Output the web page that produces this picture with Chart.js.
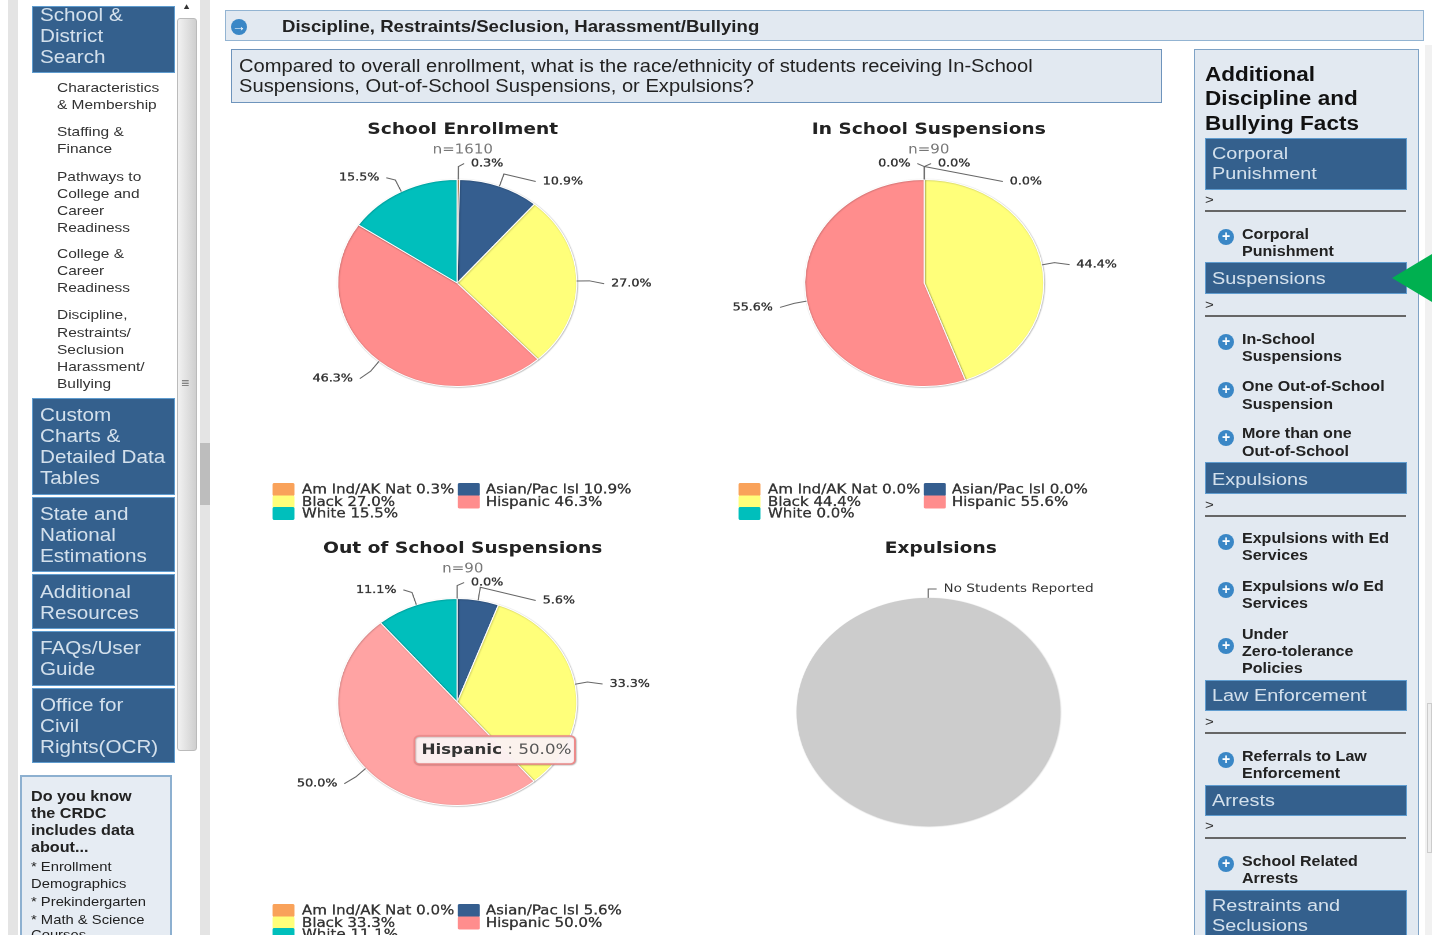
<!DOCTYPE html>
<html><head><meta charset="utf-8">
<script src="https://cdn.jsdelivr.net/npm/chart.js@4"></script>
<style>
html,body{margin:0;padding:0;background:#fff;overflow:hidden;width:1432px;height:935px}
#page{position:absolute;left:0;top:0;width:1432px;height:935px;overflow:hidden;filter:blur(.45px)}
.t{position:absolute;white-space:nowrap;transform:scaleX(1.155);transform-origin:0 0;font-family:"Liberation Sans",Arial,sans-serif}
.b{position:absolute;box-sizing:border-box}
canvas{position:absolute;transform:scaleX(1.155);transform-origin:0 0}
</style></head><body><div id="page"></div>
<script>
// ---- chart data ----
const categories=["Am Ind/AK Nat","Asian/Pac Isl","Black","Hispanic","White"];
const enrollmentValues=[0.3,10.9,27.0,46.3,15.5];
const inSchoolValues=[0.0,0.0,44.4,55.6,0.0];
const outOfSchoolValues=[0.0,5.6,33.3,50.0,11.1];
const expulsionValues=[1];
const expulsionNote="No Students Reported";
const sliceColors=["#F9A25A","#355E8F","#FFFF7A","#FF8D8D","#00BFBC"];
const chartTitles=["School Enrollment","In School Suspensions","Out of School Suspensions","Expulsions"];
const chartCounts=["n=1610","n=90","n=90",""];

// ---- page chrome ----
const page=document.getElementById('page');
function box(x,y,w,h,css){const d=document.createElement('div');d.className='b';d.style.cssText=`left:${x}px;top:${y}px;width:${w}px;height:${h}px;${css||''}`;page.appendChild(d);return d;}
function txt(x,yc,s,size,css,lh){const d=document.createElement('div');d.className='t';lh=lh||Math.round(size*1.2);d.style.cssText=`left:${x}px;top:${yc-lh/2}px;font-size:${size}px;line-height:${lh}px;${css||''}`;d.textContent=s;page.appendChild(d);return d;}
function lines(x,ys,arr,size,css){arr.forEach((s,i)=>txt(x,ys[i],s,size,css));}
const NAV="background:#34608D;border:1px solid #5F9CCF;";
const NAVT="color:#D3E0EC;";
// bands
box(8,0,10,935,"background:#E4E4E4");
box(177,18,20,733,"background:linear-gradient(90deg,#f2f2f2,#cfcfcf);border:1px solid #bbb;border-radius:3px");
txt(182,7,"▲",8,"color:#333");
txt(181,383,"≡",12,"color:#666");
box(200,0,10,935,"background:#E4E4E4");
box(200,443,10,62,"background:#BDBDBD");
box(1425,45,7,890,"background:#F1F1F1");
// left nav
[[32,6,143,67,["School &","District","Search"],[15,36,57]],
 [32,398,143,97,["Custom","Charts &","Detailed Data","Tables"],[415,436,457,478]],
 [32,497,143,75,["State and","National","Estimations"],[514,535,556]],
 [32,574,143,55,["Additional","Resources"],[592,613]],
 [32,631,143,55,["FAQs/User","Guide"],[648,669]],
 [32,688,143,75,["Office for","Civil","Rights(OCR)"],[705,726,747]]
].forEach(n=>{box(n[0],n[1],n[2],n[3],NAV);lines(40,n[5],n[4],17.9,NAVT);});
const sub="color:#333;";
lines(57,[87.5,104.5,131.5,148.5,176.5,193.5,210.5,227.5,253.5,270.5,287.5,314.5,332.5,349.5,366.5,383.5],
 ["Characteristics","& Membership","Staffing &","Finance","Pathways to","College and","Career","Readiness","College &","Career","Readiness","Discipline,","Restraints/","Seclusion","Harassment/","Bullying"],13.4,sub);
box(20,775,152,170,"background:#E6ECF3;border:2px solid #8DB0D0");
lines(31,[796,813,830,847],["Do you know","the CRDC","includes data","about..."],14,"font-weight:bold;color:#222");
lines(31,[866,883,901,919,934],["* Enrollment","Demographics","* Prekindergarten","* Math & Science","Courses"],12.8,"color:#222;");
// header + question
box(225,10,1199,31,"background:#E2E9F1;border:1.5px solid #93B4D2");
function icon(cx,cy,g){const d=box(cx-8,cy-8,16,16,"background:#3A87C6;border-radius:50%;color:#fff;font:bold 14px/15px 'Liberation Sans';text-align:center");d.textContent=g;}
icon(239,27,"→");
txt(282,26,"Discipline, Restraints/Seclusion, Harassment/Bullying",16.1,"font-weight:bold;color:#222");
box(231,49,931,54,"background:#E2E9F1;border:1.5px solid #6E94BC");
lines(239,[66,86],["Compared to overall enrollment, what is the race/ethnicity of students receiving In-School","Suspensions, Out-of-School Suspensions, or Expulsions?"],17.45,"color:#222");
// right panel
box(1194,49,225,900,"background:#E2E9F1;border:1.5px solid #7FA3C6");
lines(1205,[74,98,123],["Additional","Discipline and","Bullying Facts"],19.5,"font-weight:bold;color:#111");
[[138,52,["Corporal","Punishment"],[153,173],200,210],
 [262,32,["Suspensions"],[278],305,315],
 [462,32,["Expulsions"],[479],505,515],
 [680,31,["Law Enforcement"],[695],722,732],
 [785,31,["Arrests"],[800],826,837],
 [890,60,["Restraints and","Seclusions"],[905,925],0,0]
].forEach(n=>{box(1205,n[0],202,n[1],NAV);lines(1212,n[3],n[2],17.2,NAVT);
 if(n[4]){txt(1205,n[4],">",13,"color:#333");box(1205,n[5],201,1.5,"background:#666");}});
[[237,["Corporal","Punishment"],[234,251]],
 [342,["In-School","Suspensions"],[339,356]],
 [390,["One Out-of-School","Suspension"],[386,404]],
 [438,["More than one","Out-of-School"],[433,451]],
 [542,["Expulsions with Ed","Services"],[538,555]],
 [590,["Expulsions w/o Ed","Services"],[586,603]],
 [646,["Under","Zero-tolerance","Policies"],[634,651,668]],
 [760,["Referrals to Law","Enforcement"],[756,773]],
 [864,["School Related","Arrests"],[861,878]]
].forEach(n=>{icon(1226,n[0],"+");lines(1242,n[2],n[1],13.9,"font-weight:bold;color:#222");});
// green pointer
box(1392,254,40,48,"background:#00B050;clip-path:polygon(0 50%,100% 0,100% 100%)");
box(1427,703,5,150,"background:#eee;border:1px solid #ccc");

// ---- charts ----
const F='"DejaVu Sans"';
const R_LABEL=19;
function placeLabels(chart,meta){
  const sides={1:[],[-1]:[]};
  meta.data.forEach((a,i)=>{
    const full=a.endAngle-a.startAngle>=Math.PI*2-1e-6;
    const th=(full?a.startAngle:(a.startAngle+a.endAngle)/2)+Math.PI/2;
    const side=(Math.sin(th)>1e-6||th<1e-6||full)?1:-1;
    const dy=Math.max(-123,-(a.outerRadius+R_LABEL)*Math.cos(th)+3);
    sides[side].push({a,i,th,side,dy});
  });
  const out=[];
  [1,-1].forEach(s=>{
    const list=sides[s];
    if(s===-1)list.sort((p,q)=>p.dy-q.dy);
    for(let k=1;k<list.length;k++) if(list[k].dy<list[k-1].dy+18) list[k].dy=list[k-1].dy+18;
    out.push(...list);
  });
  return out;
}
const labelPlugin={id:'pieLabels',afterDatasetsDraw(chart){
  const ctx=chart.ctx,meta=chart.getDatasetMeta(0),ds=chart.data.datasets[0];
  ctx.save();
  placeLabels(chart,meta).forEach(l=>{
    const a=l.a,ex=a.x+a.outerRadius*Math.sin(l.th),ey=a.y-a.outerRadius*Math.cos(l.th);
    const tyAbs=a.y+l.dy;
    const mx=a.x+(a.outerRadius+11)*Math.sin(l.th);
    let my=a.y-(a.outerRadius+13)*Math.cos(l.th);
    if(ds.labelText)my=Math.max(my,tyAbs);
    const scale=a.outerRadius/104;
    const dmax=l.dy<0?122:130;
    const edge=(Math.abs(l.dy)>=118?12:Math.max(12,134*Math.sqrt(1-Math.min(1,(l.dy/dmax)**2))))*scale;
    const tx=a.x+l.side*edge, ty=tyAbs;
    ctx.strokeStyle='#666';ctx.lineWidth=1;ctx.beginPath();ctx.moveTo(ex,ey);ctx.lineTo(mx,my);ctx.lineTo(tx-l.side*6,ty);ctx.stroke();
    const s=ds.labelText?ds.labelText:ds.data[l.i].toFixed(1)+'%';
    ctx.font=ds.labelText?`11.8px ${F}`:`11px ${F}`;ctx.fillStyle='#333';ctx.textBaseline='middle';ctx.textAlign=l.side>0?'left':'right';
    ctx.lineWidth=.35;ctx.strokeStyle='#333';
    ctx.fillText(s,tx,ty);if(!ds.labelText)ctx.strokeText(s,tx,ty);
  });
  ctx.restore();
}};
const shiftPlugin={id:'pieShift',afterLayout(chart,args,opts){
  const a=chart.chartArea;a.left+=opts.dx;a.right+=opts.dx;
}};
const shadowPlugin={id:'pieShadow',
  beforeDatasetsDraw(c){c.ctx.save();c.ctx.shadowColor='rgba(0,0,0,.28)';c.ctx.shadowBlur=3;c.ctx.shadowOffsetX=1;c.ctx.shadowOffsetY=1;},
  afterDatasetsDraw(c){c.ctx.restore();}};
const legendPlugin={id:'legendRows',afterDraw(chart,args,opts){
  if(!opts.show)return;
  const ctx=chart.ctx,vals=chart.data.datasets[0].data;
  ctx.save();
  const cols=[36.8,197.3],textOff=[25.5,24.2],rows=[380,392.5,404].map(v=>v+opts.dy);
  const places=[[0,0],[1,0],[0,1],[1,1],[0,2]];
  categories.forEach((c,i)=>{
    const [cc,rr]=places[i];
    ctx.fillStyle=sliceColors[i];
    ctx.beginPath();ctx.roundRect(cols[cc],rows[rr]-7,19,13,1.5);ctx.fill();
    const s=c+' '+vals[i].toFixed(1)+'%';
    ctx.font=`13px ${F}`;ctx.fillStyle='#333';ctx.strokeStyle='#333';ctx.lineWidth=.3;ctx.textBaseline='middle';
    ctx.fillText(s,cols[cc]+textOff[cc],rows[rr]);ctx.strokeText(s,cols[cc]+textOff[cc],rows[rr]);
  });
  ctx.restore();
}};
const tipPlugin={id:'hoverTip',afterDraw(chart,args,opts){
  const act=chart.getActiveElements();if(!act.length)return;
  const a=act[0].element,i=act[0].index,ctx=chart.ctx,x=a.x-37,y=a.y+34;
  ctx.save();
  ctx.shadowColor='rgba(0,0,0,.3)';ctx.shadowBlur=3;ctx.shadowOffsetX=1;ctx.shadowOffsetY=1;
  ctx.fillStyle='rgba(255,246,246,.95)';ctx.strokeStyle='#EE8A8A';ctx.lineWidth=1.5;
  ctx.beginPath();ctx.roundRect(x,y,139,28,4);ctx.fill();ctx.stroke();
  ctx.shadowColor='transparent';
  ctx.textBaseline='middle';ctx.textAlign='left';
  ctx.font=`bold 14.5px ${F}`;ctx.fillStyle='#333';
  const name=categories[i];ctx.fillText(name,x+6,y+14);
  const w=ctx.measureText(name).width;
  ctx.font=`14.5px ${F}`;ctx.fillStyle='#555';
  ctx.fillText(' : '+chart.data.datasets[0].data[i].toFixed(1)+'%',x+6+w,y+14);
  ctx.restore();
}};
function pie(cfg){
  const c=document.createElement('canvas');
  c.width=403;c.height=415;
  c.style.cssText=`left:${cfg.left}px;top:${cfg.top}px;width:403px;height:415px`;
  page.appendChild(c);
  return new Chart(c,{type:'pie',
    data:{labels:cfg.labels,datasets:[{data:cfg.values,labelText:cfg.note,backgroundColor:cfg.colors,borderColor:'#fff',borderWidth:cfg.note?0:1,
      hoverBackgroundColor:cfg.hover||cfg.colors,hoverBorderColor:'#fff',hoverOffset:0}]},
    options:{responsive:false,animation:false,devicePixelRatio:2,events:[],
      layout:{padding:{bottom:cfg.padBottom}},
      plugins:{
        title:{display:true,text:cfg.title,color:'#222',font:{family:F,size:16.1,weight:'bold'},padding:{top:10,bottom:cfg.count?3:cfg.titleGap}},
        subtitle:{display:!!cfg.count,text:cfg.count,color:'#777',font:{family:F,size:13,weight:'normal'},padding:{top:0,bottom:21.1}},
        legend:{display:false},tooltip:{enabled:false},
        legendRows:{show:cfg.legend,dy:cfg.legendDy||0},
        pieShift:{dx:cfg.shift}
      }},
    plugins:[shiftPlugin,shadowPlugin,labelPlugin,legendPlugin,tipPlugin]});
}
pie({left:230.25,top:110,labels:categories,values:enrollmentValues,colors:sliceColors,title:chartTitles[0],count:chartCounts[0],shift:-4.8,padBottom:138,legend:true});
pie({left:696.25,top:110,labels:categories,values:inSchoolValues,colors:sliceColors,title:chartTitles[1],count:chartCounts[1],shift:-3.9,padBottom:138,legend:true});
const oos=pie({left:230.25,top:529,labels:categories,values:outOfSchoolValues,colors:sliceColors,hover:["#F9A25A","#355E8F","#FFFF7A","#FFA3A3","#00BFBC"],title:chartTitles[2],count:chartCounts[2],shift:-4.8,padBottom:138,legend:true,legendDy:2});
oos.setActiveElements([{datasetIndex:0,index:categories.indexOf("Hispanic")}]);
oos.render();
pie({left:708.25,top:529,labels:[expulsionNote],values:expulsionValues,note:expulsionNote,colors:["#CCCCCC"],title:chartTitles[3],count:chartCounts[3],titleGap:39.6,shift:-10.8,padBottom:118,legend:false});
</script></body></html>
